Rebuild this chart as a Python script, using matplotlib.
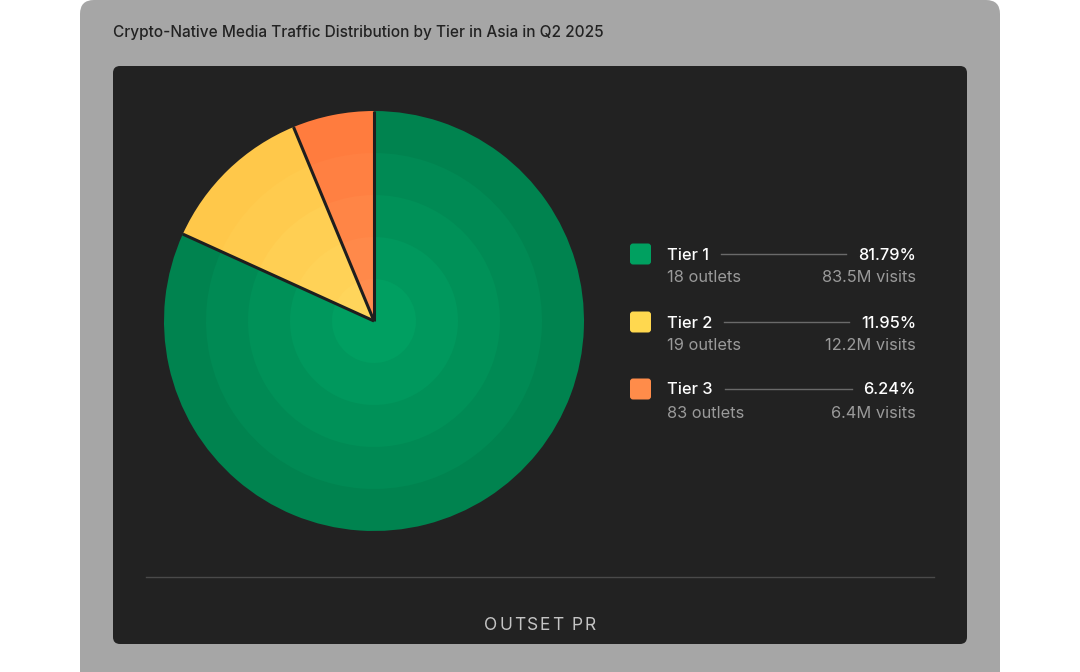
import matplotlib
matplotlib.use("Agg")
import matplotlib.pyplot as plt
from matplotlib.patches import FancyBboxPatch
import numpy as np

# ---------------- data ----------------
title = "Crypto-Native Media Traffic Distribution by Tier in Asia in Q2 2025"
tiers = ["Tier 1", "Tier 2", "Tier 3"]
shares = [81.79, 11.95, 6.24]
outlets = [18, 19, 83]
visits = ["83.5M", "12.2M", "6.4M"]
logo_text = "OUTSET PR"

# colours: (outer, inner) for radial banding
outer_cols = ["#00834F", "#FFC84A", "#FF7C3E"]
inner_cols = ["#009F61", "#FFD55B", "#FF8D4E"]
legend_cols = ["#00A060", "#FFD84F", "#FF8C4A"]

W, H = 1080, 672
fig = plt.figure(figsize=(W / 100, H / 100), dpi=100)
fig.patch.set_facecolor("white")

plt.rcParams["font.family"] = ["Inter", "DejaVu Sans"]

# overlay axes in pixel coordinates
bg = fig.add_axes([0, 0, 1, 1])
bg.set_xlim(0, W)
bg.set_ylim(H, 0)
bg.axis("off")

# gray card
bg.add_patch(FancyBboxPatch((80, 0), 920, 700, boxstyle="round,pad=0,rounding_size=14",
                            facecolor="#A6A6A6", edgecolor="none"))
# dark panel
bg.add_patch(FancyBboxPatch((113, 66), 854, 578, boxstyle="round,pad=0,rounding_size=7",
                            facecolor="#222222", edgecolor="none"))

bg.text(113, 33, title, fontsize=11.1, color="#222222", ha="left", va="center",
        fontweight="medium")

# separator
bg.plot([146, 934], [577, 577], color="#4A4A4A", lw=1)

fig.canvas.draw()
r = fig.canvas.get_renderer()

# logo with letter spacing, centred
chars = list(logo_text)
tmp = []
for ch in chars:
    t = bg.text(0, 626, ch if ch != " " else "I", fontsize=12.5, color="#C4C4C4",
                ha="left", va="center", fontweight="normal")
    tmp.append(t)
widths = [t.get_window_extent(renderer=r).width for t in tmp]
for t in tmp:
    t.remove()
widths = [w if ch != " " else 5 for w, ch in zip(widths, chars)]
track = 1.8
total = sum(widths) + track * (len(chars) - 1)
x = 540 - total / 2
for ch, w in zip(chars, widths):
    if ch != " ":
        bg.text(x, 626, ch, fontsize=12.5, color="#C4C4C4", ha="left", va="center",
                fontweight="normal")
    x += w + track

# legend
row_y = [254, 322, 389]
for i in range(3):
    y = row_y[i]
    bg.add_patch(FancyBboxPatch((630, y - 10.5), 21, 21, boxstyle="round,pad=0,rounding_size=3",
                                facecolor=legend_cols[i], edgecolor="none"))
    t = bg.text(667, y + 1, tiers[i], fontsize=11.8, color="white", ha="left", va="center",
                fontweight="medium")
    pct = bg.text(916, y + 1, f"{shares[i]:.2f}%", fontsize=11.8, color="white", ha="right",
                  va="center", fontweight="medium")
    bg.text(667, y + 24, f"{outlets[i]} outlets", fontsize=11.8, color="#9A9A9A", ha="left",
            va="center")
    bg.text(916, y + 24, f"{visits[i]} visits", fontsize=11.8, color="#9A9A9A", ha="right",
            va="center")
    bb = t.get_window_extent(renderer=r)
    bb2 = pct.get_window_extent(renderer=r)
    bg.plot([bb.x1 + 12, bb2.x0 - 12], [y, y], color="#6A6A6A", lw=1)

# pie axes
cx, cy, R = 374, 321, 210
pax = fig.add_axes([(cx - R) / W, (H - cy - R) / H, 2 * R / W, 2 * R / H])
pax.set_aspect("equal")
pax.axis("off")


def mix(c1, c2, t):
    a = np.array(matplotlib.colors.to_rgb(c1))
    b = np.array(matplotlib.colors.to_rgb(c2))
    return tuple(a + (b - a) * t)


nb = 5
for k in range(nb):
    rad = 1.0 - k * 0.2
    tt = k / (nb - 1)
    cols = [mix(outer_cols[i], inner_cols[i], tt) for i in range(3)]
    pax.pie(shares, radius=rad, colors=cols, startangle=90, counterclock=False,
            wedgeprops=dict(linewidth=0, edgecolor="none"))
# slice separators (radial lines only)
for s in [0] + list(np.cumsum(shares)[:-1]):
    ang = np.deg2rad(90 - 360 * s / 100.0)
    pax.plot([0, np.cos(ang)], [0, np.sin(ang)], color="#1E1E1E", lw=2.2,
             solid_capstyle="butt")
pax.set_xlim(-1, 1)
pax.set_ylim(-1, 1)

fig.savefig("out.png", dpi=100, facecolor=fig.get_facecolor())
